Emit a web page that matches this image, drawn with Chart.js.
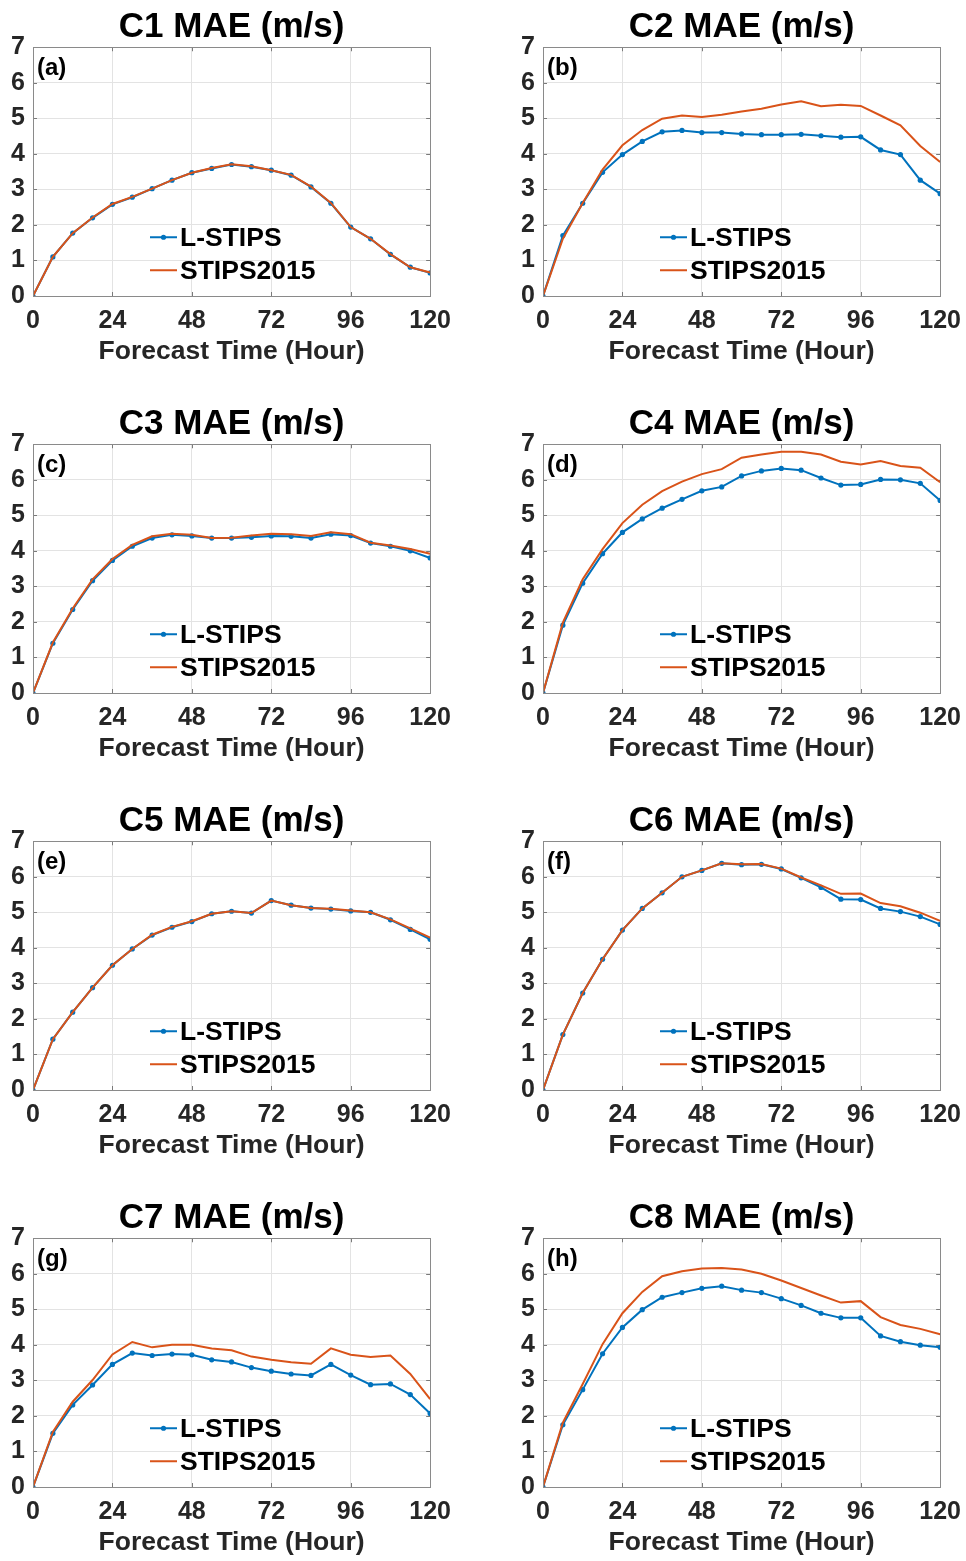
<!DOCTYPE html>
<html><head><meta charset="utf-8">
<script src="https://cdn.jsdelivr.net/npm/chart.js@4.4.1/dist/chart.umd.min.js"></script>
<style>
html,body{margin:0;padding:0;background:#fff;overflow:hidden;width:966px;height:1561px;position:relative;}
canvas{position:absolute;}
</style></head><body>
<canvas id="c1" width="461" height="370" style="left:0;top:0"></canvas>
<canvas id="c2" width="461" height="370" style="left:510px;top:0"></canvas>
<canvas id="c3" width="461" height="370" style="left:0;top:397px"></canvas>
<canvas id="c4" width="461" height="370" style="left:510px;top:397px"></canvas>
<canvas id="c5" width="461" height="370" style="left:0;top:794px"></canvas>
<canvas id="c6" width="461" height="370" style="left:510px;top:794px"></canvas>
<canvas id="c7" width="461" height="370" style="left:0;top:1191px"></canvas>
<canvas id="c8" width="461" height="370" style="left:510px;top:1191px"></canvas>
<script>
const hours = [0,6,12,18,24,30,36,42,48,54,60,66,72,78,84,90,96,102,108,114,120];
const xTicks = [0,24,48,72,96,120];
const seriesNames = ['L-STIPS','STIPS2015'];
const panelTitles = ['C1 MAE (m/s)','C2 MAE (m/s)','C3 MAE (m/s)','C4 MAE (m/s)','C5 MAE (m/s)','C6 MAE (m/s)','C7 MAE (m/s)','C8 MAE (m/s)'];
const panelLabels = ['(a)','(b)','(c)','(d)','(e)','(f)','(g)','(h)'];
const xTitle = 'Forecast Time (Hour)';

const c1LSTIPS    = [0,1.10,1.77,2.20,2.58,2.78,3.02,3.26,3.47,3.59,3.70,3.64,3.54,3.40,3.07,2.61,1.94,1.61,1.17,0.81,0.65];
const c1STIPS2015 = [0,1.10,1.77,2.21,2.59,2.79,3.02,3.26,3.47,3.60,3.71,3.65,3.54,3.41,3.08,2.62,1.94,1.61,1.18,0.81,0.66];
const c2LSTIPS    = [0,1.70,2.61,3.48,3.98,4.35,4.62,4.66,4.60,4.60,4.56,4.54,4.54,4.55,4.51,4.47,4.48,4.11,3.98,3.26,2.88];
const c2STIPS2015 = [0,1.61,2.62,3.56,4.24,4.67,4.99,5.08,5.04,5.10,5.19,5.27,5.39,5.48,5.34,5.38,5.35,5.08,4.80,4.22,3.77];
const c3LSTIPS    = [0,1.40,2.35,3.16,3.73,4.13,4.36,4.45,4.42,4.36,4.36,4.38,4.42,4.41,4.36,4.47,4.43,4.22,4.13,4.00,3.80];
const c3STIPS2015 = [0,1.42,2.38,3.20,3.77,4.17,4.41,4.48,4.45,4.36,4.37,4.43,4.48,4.47,4.42,4.52,4.47,4.23,4.15,4.05,3.92];
const c4LSTIPS    = [0,1.91,3.09,3.92,4.52,4.90,5.20,5.45,5.69,5.80,6.11,6.25,6.32,6.27,6.05,5.85,5.87,6.01,6.00,5.90,5.42];
const c4STIPS2015 = [0,1.98,3.20,4.05,4.78,5.30,5.68,5.95,6.16,6.30,6.62,6.71,6.79,6.79,6.71,6.51,6.43,6.53,6.39,6.34,5.93];
const c5LSTIPS    = [0,1.43,2.19,2.88,3.51,3.97,4.36,4.58,4.74,4.96,5.03,4.98,5.33,5.20,5.12,5.09,5.04,5.00,4.79,4.52,4.24];
const c5STIPS2015 = [0,1.43,2.19,2.88,3.51,3.97,4.37,4.59,4.75,4.96,5.03,4.98,5.33,5.20,5.12,5.10,5.05,5.00,4.80,4.55,4.29];
const c6LSTIPS    = [0,1.56,2.73,3.68,4.50,5.11,5.55,6.00,6.18,6.38,6.34,6.35,6.22,5.97,5.70,5.37,5.36,5.11,5.02,4.88,4.66];
const c6STIPS2015 = [0,1.56,2.73,3.68,4.50,5.11,5.55,6.00,6.18,6.38,6.35,6.36,6.23,5.98,5.76,5.52,5.53,5.26,5.17,4.99,4.76];
const c7LSTIPS    = [0,1.51,2.31,2.87,3.45,3.77,3.70,3.74,3.72,3.58,3.52,3.36,3.26,3.18,3.14,3.45,3.15,2.88,2.90,2.60,2.07];
const c7STIPS2015 = [0,1.55,2.40,3.01,3.73,4.08,3.93,4.00,4.00,3.90,3.85,3.67,3.58,3.51,3.47,3.90,3.72,3.66,3.70,3.18,2.47];
const c8LSTIPS    = [0,1.75,2.74,3.75,4.49,4.99,5.34,5.47,5.59,5.65,5.54,5.47,5.30,5.11,4.89,4.76,4.76,4.25,4.09,3.99,3.93];
const c8STIPS2015 = [0,1.81,2.90,4.02,4.89,5.49,5.93,6.07,6.15,6.16,6.12,6.00,5.81,5.60,5.39,5.19,5.23,4.78,4.56,4.45,4.30];

const lstipsSets = [c1LSTIPS,c2LSTIPS,c3LSTIPS,c4LSTIPS,c5LSTIPS,c6LSTIPS,c7LSTIPS,c8LSTIPS];
const stipsSets  = [c1STIPS2015,c2STIPS2015,c3STIPS2015,c4STIPS2015,c5STIPS2015,c6STIPS2015,c7STIPS2015,c8STIPS2015];

const BLUE = '#0072BD', ORANGE = '#D95319';
const FONT = '"Liberation Sans", Arial, Helvetica, sans-serif';

const decor = {
  id: 'decor',
  beforeDatasetsDraw(chart) {
    const {ctx, chartArea: a, scales} = chart;
    ctx.save();
    ctx.strokeStyle = '#7a7a7a';
    ctx.lineWidth = 1;
    ctx.beginPath();
    xTicks.forEach(v => {
      const x = Math.round(scales.x.getPixelForValue(v)) + 0.5;
      ctx.moveTo(x, a.bottom); ctx.lineTo(x, a.bottom - 4);
      ctx.moveTo(x, a.top); ctx.lineTo(x, a.top + 4);
    });
    for (let v = 0; v <= 7; v++) {
      const y = Math.round(scales.y.getPixelForValue(v)) + 0.5;
      ctx.moveTo(a.left, y); ctx.lineTo(a.left + 4, y);
      ctx.moveTo(a.right, y); ctx.lineTo(a.right - 4, y);
    }
    ctx.stroke();
    ctx.restore();
  },
  afterDraw(chart, args, opts) {
    const {ctx, chartArea: a} = chart;
    ctx.save();
    ctx.strokeStyle = '#8a8a8a';
    ctx.lineWidth = 1;
    ctx.strokeRect(Math.round(a.left) + 0.5, Math.round(a.top) + 0.5, Math.round(a.right - a.left), Math.round(a.bottom - a.top));
    ctx.fillStyle = '#000';
    ctx.font = 'bold 24px ' + FONT;
    ctx.textBaseline = 'middle';
    ctx.textAlign = 'left';
    ctx.fillText(opts.label, a.left + 4, a.top + 21);
    const items = [
      {text: seriesNames[0], color: BLUE, marker: true, dy: 190},
      {text: seriesNames[1], color: ORANGE, marker: false, dy: 223}
    ];
    items.forEach(it => {
      const y = a.top + it.dy;
      const x0 = a.left + 117, x1 = a.left + 144;
      ctx.strokeStyle = it.color;
      ctx.lineWidth = 2;
      ctx.beginPath(); ctx.moveTo(x0, y); ctx.lineTo(x1, y); ctx.stroke();
      if (it.marker) {
        ctx.fillStyle = it.color;
        ctx.beginPath(); ctx.arc((x0 + x1) / 2, y, 2.6, 0, Math.PI * 2); ctx.fill();
      }
      ctx.fillStyle = '#000';
      ctx.font = 'bold 26.5px ' + FONT;
      ctx.fillText(it.text, a.left + 147, y + 1);
    });
    ctx.restore();
  }
};

function makeChart(idx) {
  const ctx = document.getElementById('c' + (idx + 1));
  return new Chart(ctx, {
    type: 'line',
    data: {
      labels: hours,
      datasets: [
        {
          label: seriesNames[0],
          data: hours.map((h, i) => ({x: h, y: lstipsSets[idx][i]})),
          borderColor: BLUE, backgroundColor: BLUE,
          borderWidth: 2, pointRadius: 2.6, pointBorderWidth: 0,
          pointBackgroundColor: BLUE, tension: 0, order: 1
        },
        {
          label: seriesNames[1],
          data: hours.map((h, i) => ({x: h, y: stipsSets[idx][i]})),
          borderColor: ORANGE, backgroundColor: ORANGE,
          borderWidth: 2, pointRadius: 0, tension: 0, order: 0
        }
      ]
    },
    options: {
      responsive: false,
      animation: false,
      layout: {padding: {left: 0, right: 0, top: 0, bottom: 0}},
      plugins: {
        legend: {display: false},
        tooltip: {enabled: false},
        title: {
          display: true, text: panelTitles[idx], fullSize: false,
          color: '#000', font: {family: FONT, size: 35, weight: 'bold', lineHeight: 1.15},
          padding: {top: 7, bottom: 0}
        },
        decor: {label: panelLabels[idx]}
      },
      scales: {
        x: {
          type: 'linear', min: 0, max: 120,
          afterBuildTicks: s => { s.ticks = xTicks.map(v => ({value: v})); },
          afterFit: s => { s.height = 74; },
          ticks: {color: '#262626', font: {family: FONT, size: 25, weight: 'bold'}, padding: 10, maxRotation: 0, autoSkip: false},
          grid: {color: '#e3e3e3', lineWidth: 1, drawTicks: false},
          border: {display: false},
          title: {display: true, text: xTitle, color: '#262626', font: {family: FONT, size: 26.5, weight: 'bold', lineHeight: 1.2}, padding: {top: 0, bottom: 2}}
        },
        y: {
          min: 0, max: 7,
          afterFit: s => { s.width = 33; },
          ticks: {stepSize: 1, color: '#262626', font: {family: FONT, size: 25, weight: 'bold'}, padding: 8},
          grid: {color: '#e3e3e3', lineWidth: 1, drawTicks: false},
          border: {display: false}
        }
      }
    },
    plugins: [decor]
  });
}
for (let i = 0; i < 8; i++) makeChart(i);
</script>
</body></html>
